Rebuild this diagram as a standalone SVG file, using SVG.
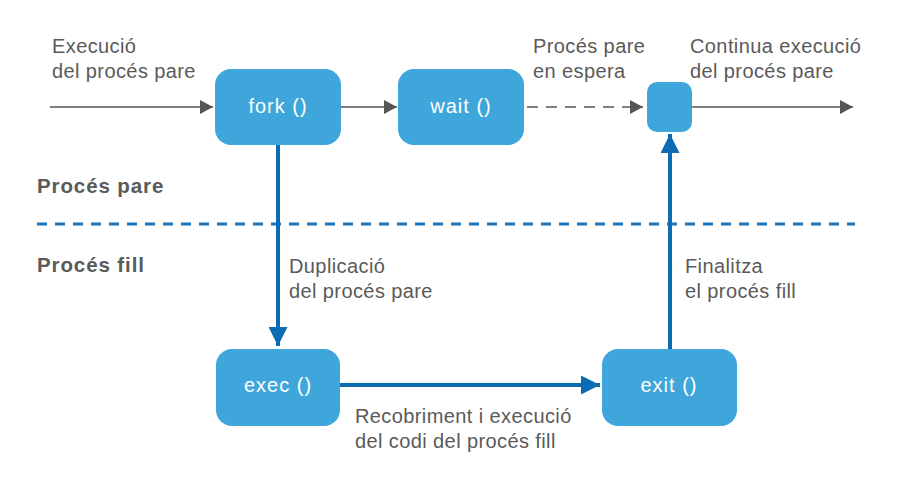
<svg xmlns="http://www.w3.org/2000/svg" width="900" height="493" viewBox="0 0 900 493">
<style>
.box{fill:#3ea6da}
.bt{font-family:"Liberation Sans",Arial,sans-serif;font-size:20px;letter-spacing:1px;fill:#fff;text-anchor:middle}
.lb{font-family:"Liberation Sans",Arial,sans-serif;font-size:20px;letter-spacing:0.4px;fill:#5a5a5a}
.hd{font-family:"Liberation Sans",Arial,sans-serif;font-size:20.5px;letter-spacing:0.9px;font-weight:bold;fill:#5a5a5a}
.g{stroke:#555;stroke-width:1.6;fill:none}
.b{stroke:#0b6cb4;stroke-width:4;fill:none}
</style>
<defs>
<marker id="ag" markerWidth="13" markerHeight="14" refX="13" refY="7" orient="auto" markerUnits="userSpaceOnUse" viewBox="0 0 13 14">
<path d="M0,0 L13,7 L0,14 z" fill="#555"/>
</marker>
<marker id="ab" markerWidth="19" markerHeight="19" refX="19" refY="9.5" orient="auto" markerUnits="userSpaceOnUse" viewBox="0 0 19 19">
<path d="M0,0 L19,9.5 L0,19 z" fill="#0b6cb4"/>
</marker>
</defs>
<rect width="900" height="493" fill="#fff"/>
<g id="lane">
<line x1="37" y1="224" x2="855" y2="224" stroke="#1a74bb" stroke-width="3" stroke-dasharray="10 8"/>
<text class="hd" x="37" y="193">Procés pare</text>
<text class="hd" x="37" y="272">Procés fill</text>
</g>
<g id="connectors">
<line class="g" x1="50" y1="107" x2="213" y2="107" marker-end="url(#ag)"/>
<line class="g" x1="341" y1="107" x2="397" y2="107" marker-end="url(#ag)"/>
<line class="g" x1="527" y1="107" x2="643" y2="107" stroke-dasharray="11 8" marker-end="url(#ag)"/>
<line class="g" x1="692" y1="107" x2="853" y2="107" marker-end="url(#ag)"/>
<line class="b" x1="278" y1="145" x2="278" y2="346" marker-end="url(#ab)"/>
<line class="b" x1="670" y1="349" x2="670" y2="134" marker-end="url(#ab)"/>
<line class="b" x1="340" y1="385" x2="600" y2="385" marker-end="url(#ab)"/>
</g>
<g id="fork">
<rect class="box" x="215" y="69" width="126" height="76" rx="16"/>
<text class="bt" x="278" y="113">fork ()</text>
</g>
<g id="wait">
<rect class="box" x="398" y="69" width="126" height="76" rx="16"/>
<text class="bt" x="461" y="113">wait ()</text>
</g>
<g id="join">
<rect class="box" x="647" y="82" width="45" height="50" rx="10"/>
</g>
<g id="exec">
<rect class="box" x="216" y="349" width="124" height="77" rx="16"/>
<text class="bt" x="278" y="392">exec ()</text>
</g>
<g id="exit">
<rect class="box" x="602" y="349" width="135" height="77" rx="16"/>
<text class="bt" x="669" y="392">exit ()</text>
</g>
<g id="labels">
<text class="lb" x="52" y="53">Execució</text>
<text class="lb" x="52" y="78">del procés pare</text>
<text class="lb" x="533" y="53">Procés pare</text>
<text class="lb" x="533" y="78">en espera</text>
<text class="lb" x="690" y="53">Continua execució</text>
<text class="lb" x="690" y="78">del procés pare</text>
<text class="lb" x="289" y="273">Duplicació</text>
<text class="lb" x="289" y="298">del procés pare</text>
<text class="lb" x="685" y="273">Finalitza</text>
<text class="lb" x="685" y="298">el procés fill</text>
<text class="lb" x="355" y="423">Recobriment i execució</text>
<text class="lb" x="355" y="448">del codi del procés fill</text>
</g>
</svg>
